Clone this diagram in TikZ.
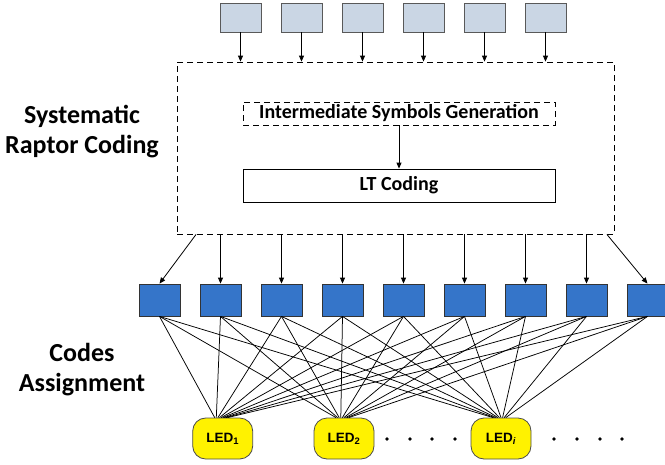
\documentclass[tikz,border=0pt]{standalone}
\usepackage{fontspec}
\setmainfont{Carlito}
\newfontfamily\arialfont{Liberation Sans}
\usetikzlibrary{arrows.meta}
\definecolor{inblue}{RGB}{202,214,228}
\definecolor{outblue}{RGB}{53,117,201}

\begin{document}
\begin{tikzpicture}[x=1pt,y=-1pt,line width=0.8pt,
  arr/.style={-{Triangle[length=6pt,width=5pt]}},
  dash box/.style={draw,dash pattern=on 6pt off 4pt,inner sep=0pt},
  inbox/.style={draw=black!65,fill=inblue,minimum width=41pt,minimum height=29pt,inner sep=0pt},
  outbox/.style={draw=black!80,fill=outblue,minimum width=41pt,minimum height=32pt,inner sep=0pt},
  ledbox/.style={draw=black!70,fill=yellow,rounded corners=13pt,minimum width=60pt,minimum height=41pt,inner sep=0pt,font=\arialfont\bfseries\fontsize{13.5}{15}\selectfont},
  label/.style={align=center,font=\bfseries\fontsize{26}{30}\selectfont}]
\useasboundingbox (0,0) rectangle (665,464);

% side labels
\node[label] (lsrc) at (82,132) {Systematic\\Raptor Coding};
\node[label] (lcodes) at (82,370) {Codes\\Assignment};

% source symbols
\foreach \i in {1,...,6}
   \node[inbox] (in\i) at ({240.5+61*(\i-1)},17.5) {};

% raptor coder
\node[dash box,minimum width=437pt,minimum height=172pt] (src) at (395.5,148) {};
\node[dash box,minimum width=312pt,minimum height=23pt,font=\bfseries\fontsize{20}{22}\selectfont] (isg) at (399,113.5) {Intermediate Symbols Generation};
\node[draw,minimum width=312pt,minimum height=33pt,inner sep=0pt,font=\bfseries\fontsize{20}{22}\selectfont] (lt) at (399,185.5) {LT Coding};
\draw[arr] (isg) -- (lt);

\foreach \i in {1,...,6}
   \draw[arr] (in\i.south) -- (in\i.south |- src.north);

% encoded symbols
\foreach \i in {1,...,9}
   \node[outbox] (out\i) at ({159.5+61*(\i-1)},300) {};

\draw[arr] ([xshift=19.5pt]src.south west) -- (out1.north);
\foreach \i in {2,...,8}
   \draw[arr] (out\i.north |- src.south) -- (out\i.north);
\draw[arr] ([xshift=-7.5pt]src.south east) -- (out9.north);

% LEDs
\node[ledbox] (led1) at (222.7,438.5) {LED\textsubscript{1}};
\node[ledbox] (led2) at (344,438.5) {LED\textsubscript{2}};
\node[ledbox] (ledi) at (501,438.5) {LED\textsubscript{\itshape i}};

\foreach \i in {1,...,9}
  \foreach \j in {1,2,i}
    \draw[line width=0.75pt] (out\i.south) -- ([xshift={(\i-6)*1.6pt}]led\j.north);

\foreach \x in {387,410,432,455,554,577,600,622}
   \fill (\x,439) circle (1.8);
\end{tikzpicture}
\end{document}
